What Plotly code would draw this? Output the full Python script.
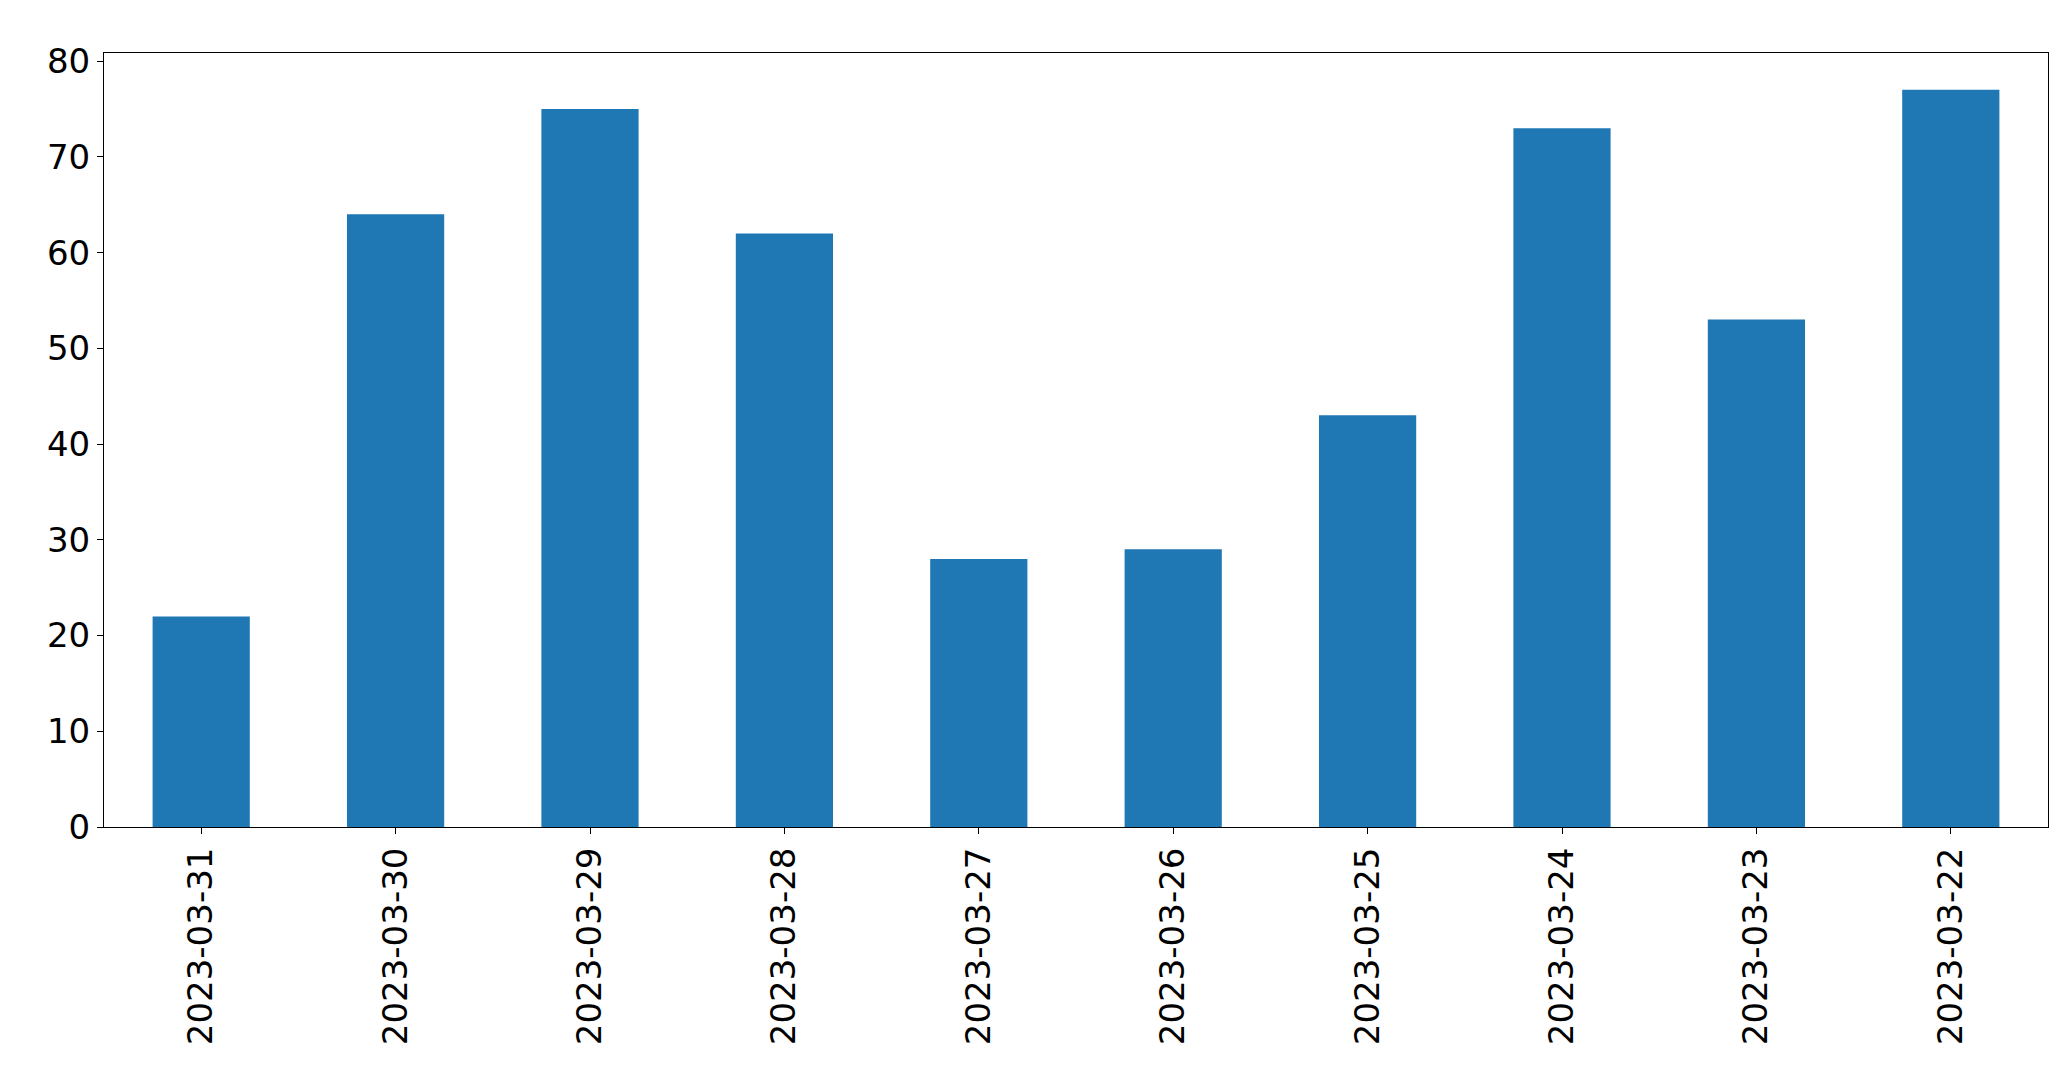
import plotly.graph_objects as go

dates = ["2023-03-31", "2023-03-30", "2023-03-29", "2023-03-28", "2023-03-27",
         "2023-03-26", "2023-03-25", "2023-03-24", "2023-03-23", "2023-03-22"]
counts = [22, 64, 75, 62, 28, 29, 43, 73, 53, 77]

fig = go.Figure(go.Bar(x=dates, y=counts, marker_color="#1f77b4", marker_line_width=0))

axis_style = dict(showline=True, linecolor="black", linewidth=1, mirror=True,
                  ticks="outside", ticklen=6, tickcolor="black", showgrid=False,
                  zeroline=False, tickfont=dict(family="DejaVu Sans", size=34, color="black"))

fig.update_xaxes(type="category", range=[-0.5, 9.5], tickangle=-90, **axis_style)
fig.update_yaxes(range=[0, 80.85], dtick=10, **axis_style)

fig.update_layout(
    width=2071, height=1067,
    margin=dict(l=96, r=31, t=45, b=248),
    bargap=0.5,
    plot_bgcolor="white", paper_bgcolor="white",
    showlegend=False,
)

fig.write_html("out.html")
